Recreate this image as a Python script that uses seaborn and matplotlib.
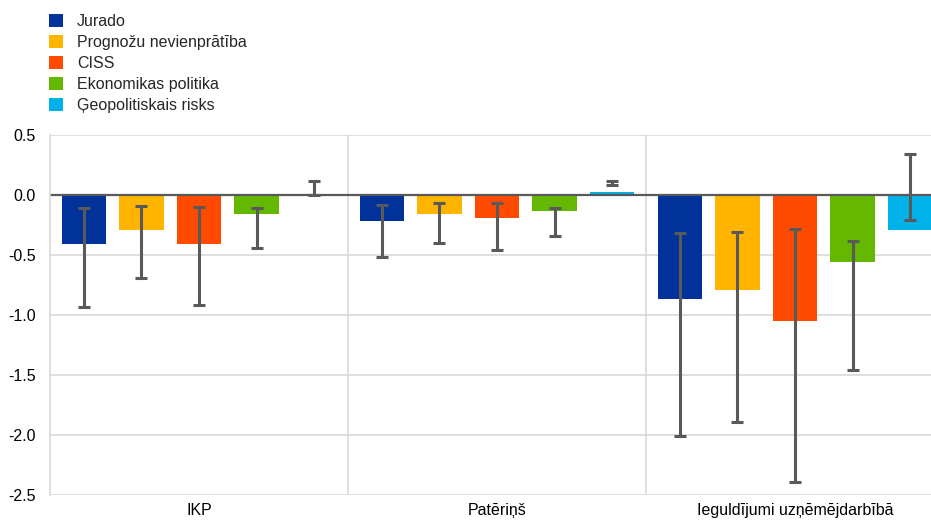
import matplotlib
matplotlib.use("Agg")
import matplotlib.pyplot as plt
import seaborn as sns
import pandas as pd
import numpy as np
from matplotlib.patches import Patch

categories = ["IKP", "Patēriņš", "Ieguldījumi uzņēmējdarbībā"]
series = ["Jurado", "Prognožu nevienprātība", "CISS", "Ekonomikas politika", "Ģeopolitiskais risks"]
colors = ["#003299", "#FFB400", "#FF4B00", "#65B800", "#00B1EA"]

# bar values per series (one value per category)
jurado = [-0.41, -0.22, -0.87]
prognozu = [-0.29, -0.16, -0.79]
ciss = [-0.41, -0.19, -1.05]
ekon = [-0.16, -0.13, -0.56]
geo = [0.00, 0.022, -0.29]

# error-bar lower / upper ends per series
jurado_lo = [-0.93, -0.52, -2.01]
jurado_hi = [-0.11, -0.08, -0.32]
prognozu_lo = [-0.69, -0.40, -1.89]
prognozu_hi = [-0.09, -0.07, -0.31]
ciss_lo = [-0.92, -0.46, -2.39]
ciss_hi = [-0.10, -0.07, -0.28]
ekon_lo = [-0.44, -0.34, -1.46]
ekon_hi = [-0.11, -0.11, -0.38]
geo_lo = [0.00, 0.08, -0.21]
geo_hi = [0.12, 0.12, 0.34]

values = [jurado, prognozu, ciss, ekon, geo]
lows = [jurado_lo, prognozu_lo, ciss_lo, ekon_lo, geo_lo]
highs = [jurado_hi, prognozu_hi, ciss_hi, ekon_hi, geo_hi]

rows = []
for s, vals in zip(series, values):
    for c, v in zip(categories, vals):
        rows.append({"cat": c, "series": s, "val": v})
df = pd.DataFrame(rows)

sns.set_theme(style="white")
plt.rcParams["font.family"] = ["Liberation Sans", "DejaVu Sans"]

FS = 11.5
fig = plt.figure(figsize=(9.31, 5.22), dpi=100)
W, H = 931, 522
ax = fig.add_axes([50 / W, 1 - 495 / H, 894 / W, (495 - 135) / H])

sns.barplot(data=df, x="cat", y="val", hue="series", order=categories,
            hue_order=series, palette=colors, width=0.965, gap=0.22,
            errorbar=None, legend=False, saturation=1, linewidth=0, ax=ax)

for cont, lo, hi, vals in zip(ax.containers, lows, highs, values):
    xs = [p.get_x() + p.get_width() / 2 for p in cont.patches]
    mids = [(a + b) / 2 for a, b in zip(lo, hi)]
    half = [(b - a) / 2 for a, b in zip(lo, hi)]
    ax.errorbar(xs, mids, yerr=half, fmt="none", ecolor="#595959",
                elinewidth=2.2, capsize=4.3, capthick=2.2, zorder=4)

ax.set_xlim(-0.5, 2.5)
ax.set_ylim(-2.5, 0.5)
ax.set_yticks([0.5, 0.0, -0.5, -1.0, -1.5, -2.0, -2.5])
ax.set_yticklabels(["0.5", "0.0", "-0.5", "-1.0", "-1.5", "-2.0", "-2.5"])
ax.yaxis.grid(True, color="#d9d9d9", linewidth=1.2)
for xv in [0.5, 1.5]:
    ax.axvline(xv, color="#d9d9d9", linewidth=1.2, zorder=0)
ax.axhline(0, color="#595959", linewidth=1.6, zorder=2.5)
ax.set_axisbelow(True)
for side in ["top", "right", "bottom"]:
    ax.spines[side].set_visible(False)
ax.spines["left"].set_color("#d9d9d9")
ax.spines["left"].set_linewidth(1.2)
ax.tick_params(axis="both", length=0, labelsize=FS, colors="#000000")
ax.tick_params(axis="y", pad=10)
ax.tick_params(axis="x", pad=6)
ax.set_xlabel("")
ax.set_ylabel("")

handles = [Patch(facecolor=c, edgecolor="none") for c in colors]
hl = 14 / (FS * 100 / 72)
fig.legend(handles, series, loc="upper left", bbox_to_anchor=(49 / W, 1 - 14 / H),
           frameon=False, fontsize=FS, handlelength=hl, handleheight=hl,
           handletextpad=0.88, labelspacing=0.37, borderpad=0, borderaxespad=0)

fig.savefig("out.png", dpi=100)
